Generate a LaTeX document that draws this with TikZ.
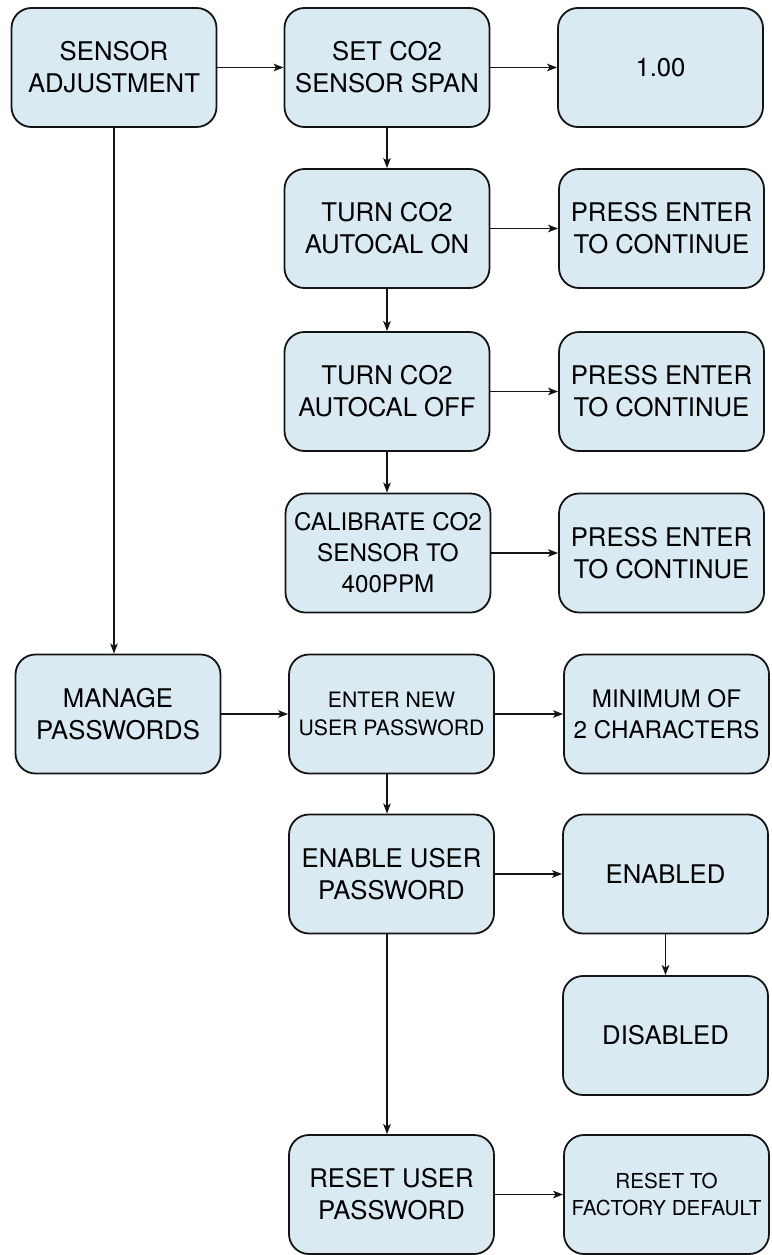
\documentclass[tikz,border=0pt]{standalone}
\usepackage{fontspec}
\setmainfont{TeX Gyre Heros}
\usetikzlibrary{arrows.meta,calc}
\definecolor{boxfill}{RGB}{218,234,243}
\definecolor{edge}{RGB}{20,20,20}
\newcommand{\fntA}{\fontsize{25.7}{32}\selectfont}
\newcommand{\fntB}{\fontsize{24.2}{31}\selectfont}
\newcommand{\fntC}{\fontsize{21.2}{27.7}\selectfont}
\newcommand{\fntD}{\fontsize{20.6}{26.5}\selectfont}
\begin{document}
\begin{tikzpicture}[x=1pt,y=-1pt,
  menubox/.style={draw=edge, line width=1.8pt, fill=boxfill, rounded corners=20pt,
    minimum width=205pt, minimum height=119pt, inner sep=0pt, align=center, font=\fntA},
  arr/.style={draw=edge, line width=1.7pt, -{Stealth[length=10pt,width=7.5pt,inset=2.5pt]}}]
\useasboundingbox (0,0) rectangle (771,1255);
% column 1
\node[menubox] (A) at (114,67.5) {SENSOR\\ADJUSTMENT};
\node[menubox] (J) at (118,714) {MANAGE\\PASSWORDS};
% column 2
\node[menubox] (B) at (387,67.5) {SET CO2\\SENSOR SPAN};
\node[menubox] (D) at (387,228.5) {TURN CO2\\AUTOCAL ON};
\node[menubox] (F) at (387,391.5) {TURN CO2\\AUTOCAL OFF};
\node[menubox, font=\fntB] (H) at (388,553) {CALIBRATE CO2\\SENSOR TO\\400PPM};
\node[menubox, font=\fntC] (K) at (391.5,714) {ENTER NEW\\USER PASSWORD};
\node[menubox] (M) at (391.5,874) {ENABLE USER\\PASSWORD};
\node[menubox] (P) at (391.5,1194.5) {RESET USER\\PASSWORD};
% column 3
\node[menubox] (C) at (660.5,67.5) {1.00};
\node[menubox] (E) at (661.5,228.5) {PRESS ENTER\\TO CONTINUE};
\node[menubox] (G) at (661.5,391.5) {PRESS ENTER\\TO CONTINUE};
\node[menubox] (I) at (661.5,553) {PRESS ENTER\\TO CONTINUE};
\node[menubox, font=\fntB] (L) at (666.5,714) {MINIMUM OF\\2 CHARACTERS};
\node[menubox] (N) at (665.5,874) {ENABLED};
\node[menubox] (O) at (665.5,1035.5) {DISABLED};
\node[menubox, font=\fntD] (Q) at (666.5,1194.5) {RESET TO\\FACTORY DEFAULT};
% horizontal connectors
\draw[arr] (A.east) -- (A.east -| B.west);
\draw[arr] (B.east) -- (B.east -| C.west);
\draw[arr] (D.east) -- (D.east -| E.west);
\draw[arr] (F.east) -- (F.east -| G.west);
\draw[arr] (H.east) -- (H.east -| I.west);
\draw[arr] (J.east) -- (J.east -| K.west);
\draw[arr] (K.east) -- (K.east -| L.west);
\draw[arr] (M.east) -- (M.east -| N.west);
\draw[arr] (P.east) -- (P.east -| Q.west);
% vertical connectors
\draw[arr] (A.south) -- (A.south |- J.north);
\draw[arr] (B.south) -- (B.south |- D.north);
\draw[arr] (D.south) -- (D.south |- F.north);
\draw[arr] (F.south) -- (F.south |- H.north);
\draw[arr] (K.south -| B) -- (M.north -| B);
\draw[arr] (M.south -| B) -- (P.north -| B);
\draw[arr] (N.south) -- (N.south |- O.north);
\end{tikzpicture}
\end{document}
